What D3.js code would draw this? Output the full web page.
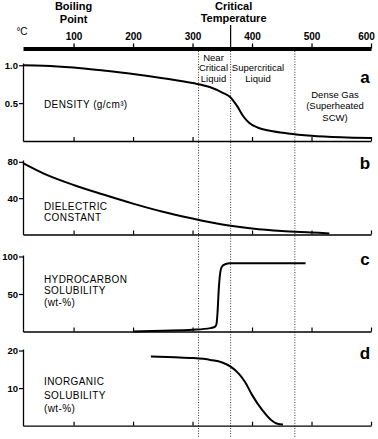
<!DOCTYPE html>
<html><head><meta charset="utf-8">
<script src="https://cdn.jsdelivr.net/npm/d3@7"></script>
<style>
body{margin:0;background:#fff;}
svg{display:block;font-family:"Liberation Sans",Arial,sans-serif;}
</style></head>
<body><svg id="c" width="378" height="439"></svg>
<script>
const tempTicks = [100, 200, 300, 400, 500, 600];
const regionLines = [310, 472];
const criticalT = 364;

const densityT = [15, 50, 100, 150, 200, 250, 300, 330, 350, 364, 375, 385, 395, 410, 430, 460, 500, 550, 600];
const densityV = [1.0, 0.995, 0.97, 0.93, 0.885, 0.83, 0.765, 0.71, 0.64, 0.575, 0.46, 0.33, 0.24, 0.175, 0.135, 0.1, 0.07, 0.05, 0.04];

const dielT = [15, 50, 100, 150, 200, 250, 300, 350, 400, 450, 500, 530];
const dielV = [78.5, 67, 54.5, 44, 34, 25, 17.5, 11, 6.6, 3.8, 2.2, 1.2];

const hydroT = [200, 250, 300, 330, 337, 340, 342, 344, 346, 348, 351, 356, 362, 400, 490];
const hydroV = [0, 1, 2.3, 4.5, 6, 9, 25, 55, 75, 84, 88, 90, 91, 91, 91];

const inorgT = [230, 270, 300, 330, 350, 364, 378, 388, 400, 417, 433, 443, 452];
const inorgV = [18.4, 18.2, 18.0, 17.5, 16.8, 15.7, 13.8, 11.7, 8.2, 4.2, 1.4, 0.5, 0.3];

const svg = d3.select("#c");
const x = d3.scaleLinear().domain([15, 600]).range([23, 371]);

// top axis
const topAxis = svg.append("g").attr("transform", "translate(0,48.5)")
  .call(d3.axisTop(x).tickValues(tempTicks).tickSize(5).tickSizeOuter(0));
topAxis.select(".domain").attr("stroke-width", 4).attr("stroke", "#000");
topAxis.selectAll(".tick line").attr("stroke-width", 1.3).attr("y2", -5);
topAxis.selectAll(".tick text").attr("font-size", 10).attr("font-weight", "bold")
  .attr("font-family", "Liberation Sans, Arial, sans-serif").attr("y", -9)
  .attr("dx", d => d === 600 ? -5 : 0);
svg.append("text").attr("x", 22).attr("y", 35).attr("text-anchor", "middle")
  .attr("font-size", 10).text("°C");

function multi(lines, cx, y0, dy, opts) {
  const t = svg.append("text").attr("text-anchor", opts.anchor || "middle")
    .attr("font-size", opts.size).attr("font-weight", opts.weight || "normal")
    .attr("letter-spacing", opts.ls || 0);
  lines.forEach((l, i) => t.append("tspan").attr("x", cx).attr("y", y0 + i * dy).text(l));
  return t;
}
multi(["Boiling", "Point"], x(100), 10, 12.5, {size: 11, weight: "bold"});
multi(["Critical", "Temperature"], x(criticalT) + 3, 9.5, 12.5, {size: 11, weight: "bold"});

// critical solid line above axis
svg.append("line").attr("x1", x(criticalT)).attr("x2", x(criticalT)).attr("y1", 25).attr("y2", 48)
  .attr("stroke", "#000").attr("stroke-width", 1.2);

// dotted vertical lines
[regionLines[0], criticalT, regionLines[1]].forEach(t => {
  svg.append("line").attr("x1", x(t)).attr("x2", x(t)).attr("y1", 51).attr("y2", 437)
    .attr("stroke", "#333").attr("stroke-width", 1).attr("stroke-dasharray", "1,1.6");
});

const panels = [
  {T: densityT, V: densityV, dom: [0, 1.03], rng: [141, 63], ticks: [0.5, 1.0], fmt: d3.format(".1f"), letter: "a", ly: 83},
  {T: dielT, V: dielV, dom: [0, 82], rng: [234.5, 160], ticks: [40, 80], fmt: d3.format("d"), letter: "b", ly: 169},
  {T: hydroT, V: hydroV, dom: [0, 102], rng: [331.5, 255], ticks: [50, 100], fmt: d3.format("d"), letter: "c", ly: 265},
  {T: inorgT, V: inorgV, dom: [0, 20.4], rng: [425.7, 349], ticks: [10, 20], fmt: d3.format("d"), letter: "d", ly: 359}
];

panels.forEach(p => {
  const y = d3.scaleLinear().domain(p.dom).range(p.rng);
  const xa = svg.append("g").attr("transform", `translate(0,${p.rng[0]})`)
    .call(d3.axisBottom(x).tickValues(tempTicks).tickSize(-4).tickSizeOuter(0).tickFormat(""));
  xa.select(".domain").attr("stroke-width", 1.3);
  xa.selectAll(".tick line").attr("stroke-width", 1.2);
  const ya = svg.append("g").attr("transform", `translate(23,0)`)
    .call(d3.axisLeft(y).tickValues(p.ticks).tickSize(4).tickSizeOuter(0).tickFormat(p.fmt));
  ya.select(".domain").attr("stroke-width", 1.3);
  ya.selectAll(".tick line").attr("stroke-width", 1.2);
  ya.selectAll(".tick text").attr("font-size", 9.5).attr("font-weight", "bold")
    .attr("font-family", "Liberation Sans, Arial, sans-serif").attr("x", -5);
  const data = p.T.map((t, i) => [t, p.V[i]]);
  svg.append("path").datum(data)
    .attr("d", d3.line().x(d => x(d[0])).y(d => y(d[1])).curve(d3.curveMonotoneX))
    .attr("fill", "none").attr("stroke", "#000").attr("stroke-width", 2);
  svg.append("text").attr("x", 365).attr("y", p.ly).attr("text-anchor", "middle")
    .attr("font-size", 17).attr("font-weight", "bold").text(p.letter);
});

// panel labels
multi(["DENSITY (g/cm³)"], 44, 107.5, 0, {size: 10, anchor: "start", ls: 0.4});
multi(["DIELECTRIC", "CONSTANT"], 44, 209.5, 11.5, {size: 10, anchor: "start", ls: 0.4});
multi(["HYDROCARBON", "SOLUBILITY", "(wt-%)"], 44, 282.5, 11.7, {size: 10, anchor: "start", ls: 0.4});
multi(["INORGANIC", "SOLUBILITY", "(wt-%)"], 44, 385, 13.7, {size: 10, anchor: "start", ls: 0.4});

// region labels
multi(["Near", "Critical", "Liquid"], 213.5, 60.5, 10.6, {size: 9.5});
multi(["Supercritical", "Liquid"], 258, 71, 11, {size: 9.5});
multi(["Dense Gas", "(Superheated", "SCW)"], 335, 97.5, 11.5, {size: 9.5});
</script></body></html>
